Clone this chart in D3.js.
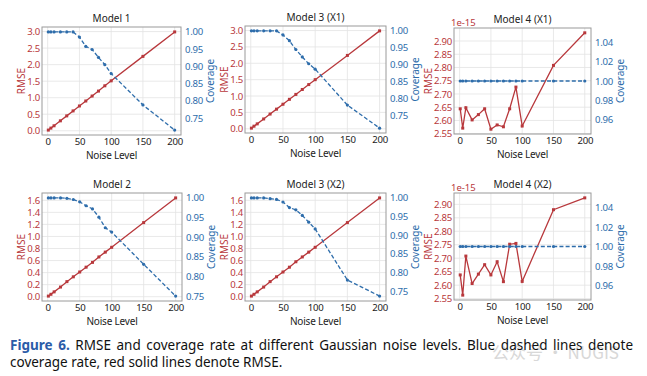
<!DOCTYPE html>
<html>
<head>
<meta charset="utf-8">
<script src="https://cdn.jsdelivr.net/npm/d3@7"></script>
<style>
  body { margin: 0; background: #fff; }
  #wrap { position: relative; width: 647px; height: 376px; overflow: hidden; }
  .cap { position: absolute; left: 10px; width: 623px; font-family: "Liberation Sans Narrow", "Noto Sans", sans-serif; font-stretch: condensed; font-size: 13.5px; color: #111; white-space: nowrap; }
  .cap.l1 { top: 336px; text-align: justify; text-align-last: justify; white-space: normal; }
  .cap.l2 { top: 353px; }
  .cap b { color: #2b5ca8; }
</style>
</head>
<body>
<div id="wrap">
<svg id="chart" width="647" height="376"></svg>
<div class="cap l1"><b>Figure 6.</b> RMSE and coverage rate at different Gaussian noise levels. Blue dashed lines denote</div>
<div class="cap l2">coverage rate, red solid lines denote RMSE.</div>
</div>
<script>
// noise levels on the x axis
const noiseLevels = [1, 5, 10, 20, 30, 40, 50, 60, 70, 80, 90, 100, 150, 200];
const xTicks = [0, 50, 100, 150, 200];

const panelTitles = ["Model 1", "Model 3 (X1)", "Model 4 (X1)", "Model 2", "Model 3 (X2)", "Model 4 (X2)"];

// RMSE values
const rmseModel1   = [0.02, 0.08, 0.15, 0.30, 0.45, 0.60, 0.75, 0.90, 1.05, 1.20, 1.36, 1.51, 2.25, 2.99];
const rmseModel3X1 = [0.02, 0.08, 0.15, 0.30, 0.45, 0.60, 0.75, 0.90, 1.05, 1.20, 1.35, 1.50, 2.24, 2.99];
const rmseModel4X1 = [2.644, 2.571, 2.648, 2.602, 2.622, 2.644, 2.567, 2.583, 2.576, 2.644, 2.726, 2.579, 2.808, 2.931];
const rmseModel2   = [0.01, 0.04, 0.08, 0.16, 0.25, 0.33, 0.41, 0.49, 0.57, 0.66, 0.74, 0.82, 1.23, 1.64];
const rmseModel3X2 = [0.01, 0.04, 0.08, 0.16, 0.25, 0.33, 0.41, 0.49, 0.58, 0.66, 0.74, 0.82, 1.23, 1.64];
const rmseModel4X2 = [2.638, 2.563, 2.708, 2.606, 2.641, 2.676, 2.638, 2.687, 2.613, 2.752, 2.755, 2.614, 2.880, 2.924];

// coverage values
const covModel1   = [1, 1, 1, 1, 1, 1, 0.985, 0.958, 0.949, 0.926, 0.905, 0.879, 0.788, 0.715];
const covModel3X1 = [1, 1, 1, 1, 1, 1, 0.988, 0.971, 0.945, 0.923, 0.903, 0.887, 0.781, 0.713];
const covModel4X1 = [1, 1, 1, 1, 1, 1, 1, 1, 1, 1, 1, 1, 1, 1];
const covModel2   = [1, 1, 1, 1, 0.999, 0.996, 0.99, 0.98, 0.972, 0.951, 0.924, 0.913, 0.831, 0.75];
const covModel3X2 = [1, 1, 1, 1, 0.998, 0.996, 0.989, 0.974, 0.968, 0.953, 0.935, 0.917, 0.78, 0.737];
const covModel4X2 = [1, 1, 1, 1, 1, 1, 1, 1, 1, 1, 1, 1, 1, 1];

// tick labels
const rmseTicksBig   = [0, 0.5, 1.0, 1.5, 2.0, 2.5, 3.0];
const rmseTicksSmall = [0, 0.2, 0.4, 0.6, 0.8, 1.0, 1.2, 1.4, 1.6];
const rmseTicksTiny  = [2.55, 2.60, 2.65, 2.70, 2.75, 2.80, 2.85, 2.90];
const covTicksWide   = [0.75, 0.80, 0.85, 0.90, 0.95, 1.00];
const covTicksFlat   = [0.96, 0.98, 1.00, 1.02, 1.04];

const red = "#b8383c", blue = "#2e6dab";
const font = "'Noto Sans', sans-serif";

const panels = [
  { title: panelTitles[0], rmse: rmseModel1,   cov: covModel1,   rt: rmseTicksBig,   ct: covTicksWide, rf: ".1f", cf: ".2f", box: [42, 181, 27, 135] },
  { title: panelTitles[1], rmse: rmseModel3X1, cov: covModel3X1, rt: rmseTicksBig,   ct: covTicksWide, rf: ".1f", cf: ".2f", box: [245, 386, 26, 133] },
  { title: panelTitles[2], rmse: rmseModel4X1, cov: covModel4X1, rt: rmseTicksTiny,  ct: covTicksFlat, rf: ".2f", cf: ".2f", box: [454, 591, 28, 134], exp: "1e-15" },
  { title: panelTitles[3], rmse: rmseModel2,   cov: covModel2,   rt: rmseTicksSmall, ct: covTicksWide, rf: ".1f", cf: ".2f", box: [42, 182, 193, 301] },
  { title: panelTitles[4], rmse: rmseModel3X2, cov: covModel3X2, rt: rmseTicksSmall, ct: covTicksWide, rf: ".1f", cf: ".2f", box: [245, 386, 193, 301] },
  { title: panelTitles[5], rmse: rmseModel4X2, cov: covModel4X2, rt: rmseTicksTiny,  ct: covTicksFlat, rf: ".2f", cf: ".2f", box: [454, 591, 193, 300], exp: "1e-15" }
];

const svg = d3.select("#chart");

// matplotlib-like limits: 5% padding, flat data widened by 5%
function padded(vals) {
  let [lo, hi] = d3.extent(vals);
  if (lo === hi) { lo = lo - Math.abs(lo) * 0.05; hi = hi + Math.abs(hi) * 0.05; }
  const m = (hi - lo) * 0.05;
  return [lo - m, hi + m];
}

panels.forEach(p => {
  const [x0, x1, y0, y1] = p.box;
  const g = svg.append("g");

  const x = d3.scaleLinear().domain(padded(noiseLevels)).range([x0, x1]);
  const yL = d3.scaleLinear().domain(padded(p.rmse)).range([y1, y0]);
  const yR = d3.scaleLinear().domain(padded(p.cov)).range([y1, y0]);

  // grid
  g.selectAll(".gx").data(xTicks).enter().append("line")
    .attr("x1", d => x(d)).attr("x2", d => x(d)).attr("y1", y0).attr("y2", y1)
    .attr("stroke", "#e3e3e3").attr("stroke-width", 0.8);
  g.selectAll(".gy").data(p.rt).enter().append("line")
    .attr("x1", x0).attr("x2", x1).attr("y1", d => yL(d)).attr("y2", d => yL(d))
    .attr("stroke", "#e3e3e3").attr("stroke-width", 0.8);

  // frame
  g.append("rect").attr("x", x0).attr("y", y0).attr("width", x1 - x0).attr("height", y1 - y0)
    .attr("fill", "none").attr("stroke", "#9a9a9a").attr("stroke-width", 1);

  // axes
  const ax = g.append("g").attr("transform", `translate(0,${y1})`)
    .call(d3.axisBottom(x).tickValues(xTicks).tickSize(0).tickPadding(3));
  ax.selectAll("text").attr("fill", "#222");

  const al = g.append("g").attr("transform", `translate(${x0},0)`)
    .call(d3.axisLeft(yL).tickValues(p.rt).tickFormat(d3.format(p.rf)).tickSize(0).tickPadding(2));
  al.selectAll("text").attr("fill", red);

  const ar = g.append("g").attr("transform", `translate(${x1},0)`)
    .call(d3.axisRight(yR).tickValues(p.ct).tickFormat(d3.format(p.cf)).tickSize(0).tickPadding(4));
  ar.selectAll("text").attr("fill", blue);

  g.selectAll(".domain").remove();
  g.selectAll(".tick text").attr("font-family", font).attr("font-size", 9.6)
    .attr("letter-spacing", "-0.25px");

  // lines
  const pts = noiseLevels.map((n, i) => ({ n, r: p.rmse[i], c: p.cov[i] }));
  g.append("path").datum(pts)
    .attr("d", d3.line().x(d => x(d.n)).y(d => yL(d.r)))
    .attr("fill", "none").attr("stroke", red).attr("stroke-width", 1.3);
  g.selectAll(".mr").data(pts).enter().append("rect")
    .attr("x", d => x(d.n) - 1.5).attr("y", d => yL(d.r) - 1.5)
    .attr("width", 3).attr("height", 3).attr("fill", red);

  g.append("path").datum(pts)
    .attr("d", d3.line().x(d => x(d.n)).y(d => yR(d.c)))
    .attr("fill", "none").attr("stroke", blue).attr("stroke-width", 1.3)
    .attr("stroke-dasharray", "4,2.2");
  g.selectAll(".mb").data(pts).enter().append("circle")
    .attr("cx", d => x(d.n)).attr("cy", d => yR(d.c)).attr("r", 1.6).attr("fill", blue);

  // labels
  g.append("text").attr("x", (x0 + x1) / 2).attr("y", y0 - 5)
    .attr("text-anchor", "middle").attr("font-family", font).attr("font-size", 10)
    .attr("fill", "#222").text(p.title);
  g.append("text").attr("x", (x0 + x1) / 2).attr("y", y1 + 24)
    .attr("text-anchor", "middle").attr("font-family", font).attr("font-size", 10)
    .attr("letter-spacing", "-0.2px").attr("fill", "#222").text("Noise Level");
  g.append("text")
    .attr("transform", `translate(${x0 - (p.exp ? 26 : 21)},${(y0 + y1) / 2}) rotate(-90)`)
    .attr("text-anchor", "middle").attr("dy", "0.35em").attr("font-family", font).attr("font-size", 10)
    .attr("fill", red).text("RMSE");
  g.append("text")
    .attr("transform", `translate(${x1 + 29},${(y0 + y1) / 2}) rotate(-90)`)
    .attr("text-anchor", "middle").attr("dy", "0.35em").attr("font-family", font).attr("font-size", 10)
    .attr("fill", blue).text("Coverage");
  if (p.exp) {
    g.append("text").attr("x", x0 - 3).attr("y", y0 - 2)
      .attr("font-family", font).attr("font-size", 9.5)
      .attr("fill", red).text(p.exp);
  }
});

// faint watermark over the caption
svg.append("text").attr("x", 492).attr("y", 359)
  .attr("font-family", "'Noto Sans CJK SC', sans-serif").attr("font-size", 17)
  .attr("fill", "#c8c8c8").attr("opacity", 0.7).text("公众号 · NUGIS");
</script>
</body>
</html>
